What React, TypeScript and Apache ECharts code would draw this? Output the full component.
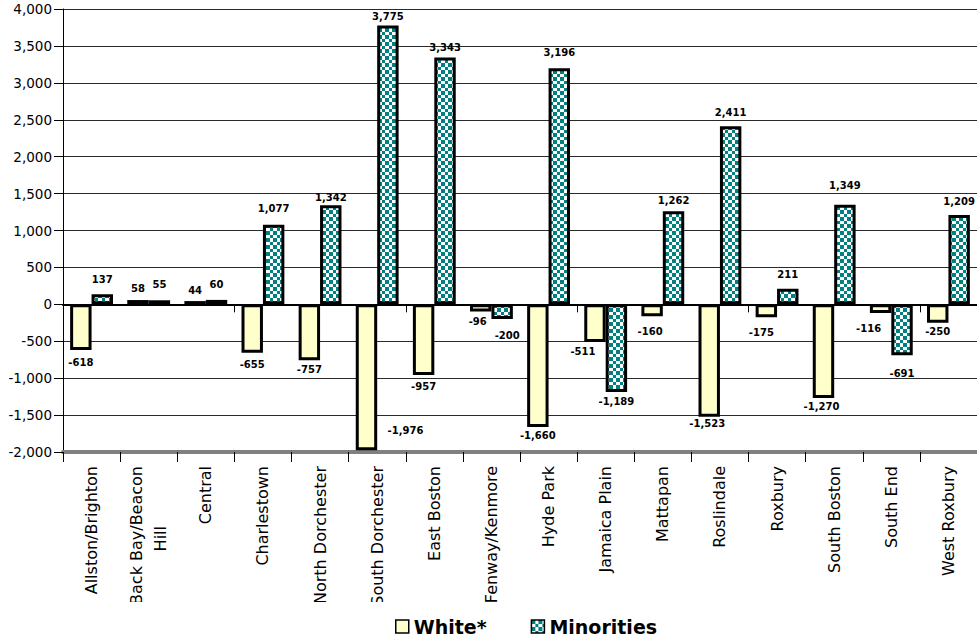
import React, { useEffect, useRef } from 'react';
import * as echarts from 'echarts';

// ---- data ----
const categories: string[] = [
  'Allston/Brighton',
  'Back Bay/Beacon\nHill',
  'Central',
  'Charlestown',
  'North Dorchester',
  'South Dorchester',
  'East Boston',
  'Fenway/Kenmore',
  'Hyde Park',
  'Jamaica Plain',
  'Mattapan',
  'Roslindale',
  'Roxbury',
  'South Boston',
  'South End',
  'West Roxbury',
];
const whiteValues: number[] = [-618, 58, 44, -655, -757, -1976, -957, -96, -1660, -511, -160, -1523, -175, -1270, -116, -250];
const minorityValues: number[] = [137, 55, 60, 1077, 1342, 3775, 3343, -200, 3196, -1189, 1262, 2411, 211, 1349, -691, 1209];
const seriesNames: string[] = ['White*', 'Minorities'];
const yMin = -2000;
const yMax = 4000;
const yStep = 500;

// ---- styling: small label nudges (px) to mimic the original placement ----
const whiteLabelNudge: number[][] = [
  [0, 4], [0, -3], [0, -2], [0, 3], [0, 0], [39, -29], [0, 3], [-3, 1],
  [0, 0], [-12, 0], [-2, 6], [-2, -2], [-5, 6], [-2, -1], [-12, 7], [0, 0],
];
const minorityLabelNudge: number[][] = [
  [0, -6], [0, -7], [0, -6], [0, -7], [0, 1], [0, 0], [0, -1], [5, 7],
  [0, -7], [0, 0], [0, -2], [0, -5], [0, -5], [0, -10], [0, 9], [0, -5],
];

const FONT = 'DejaVu Sans';
const CAT_FONT_SIZE = 16;
const CAT_MARGIN = 14;
const SECOND_LINE_MARGIN = 74; // centres the second line of a wrapped label

function makeChecker(): HTMLCanvasElement {
  const c = document.createElement('canvas');
  c.width = 7;
  c.height = 7;
  const ctx = c.getContext('2d')!;
  ctx.fillStyle = '#ffffff';
  ctx.fillRect(0, 0, 7, 7);
  ctx.fillStyle = '#008080';
  ctx.fillRect(0, 0, 4, 4);
  ctx.fillRect(4, 4, 3, 3);
  return c;
}

const fmt = (v: number) => Number(v).toLocaleString('en-US');

export default function App() {
  const ref = useRef<HTMLDivElement>(null);

  useEffect(() => {
    if (!ref.current) return;
    const chart = echarts.init(ref.current, null, { renderer: 'svg' });
    const checker = makeChecker();
    const minorityFill: any = { image: checker, repeat: 'repeat', imageWidth: 7, imageHeight: 7 };

    const catLines = categories.map((c) => c.split('\n'));

    const catLabelStyle = {
      interval: 0,
      rotate: 90,
      fontFamily: FONT,
      fontSize: CAT_FONT_SIZE,
      color: '#000',
      hideOverlap: false,
    };
    const labelOnlyAxis = (extra: any) => ({
      type: 'category',
      data: categories,
      position: 'bottom',
      axisLine: { show: false, onZero: false },
      axisTick: { show: false },
      splitLine: { show: false },
      ...extra,
    });

    const labelBase = {
      show: true,
      distance: 4,
      fontFamily: FONT,
      fontWeight: 'bold',
      fontSize: 10,
      color: '#000',
      formatter: (p: any) => fmt(p.value),
    };

    const option: any = {
      animation: false,
      backgroundColor: '#fff',
      grid: { left: 63, top: 9, width: 920, height: 443, containLabel: false },
      legend: {
        data: seriesNames,
        left: 390,
        top: 612,
        icon: 'rect',
        itemWidth: 13,
        itemHeight: 13,
        itemGap: 44,
        itemStyle: { borderColor: '#000', borderWidth: 1.5 },
        textStyle: { fontFamily: FONT, fontWeight: 'bold', fontSize: 19, color: '#000' },
        z: 200,
      },
      xAxis: [
        {
          type: 'category',
          data: categories,
          position: 'bottom',
          axisLine: { onZero: false, lineStyle: { color: '#808080', width: 4 } },
          axisTick: { show: true, length: 10, lineStyle: { color: '#000', width: 1 } },
          axisLabel: {
            ...catLabelStyle,
            margin: CAT_MARGIN,
            lineHeight: 18,
            formatter: (_v: string, i: number) => (catLines[i].length > 1 ? '' : catLines[i][0]),
          },
          splitLine: { show: false },
        },
        {
          type: 'category',
          data: categories,
          position: 'bottom',
          axisLine: { onZero: true, lineStyle: { color: '#000', width: 2 } },
          axisTick: { show: true, length: 8, lineStyle: { color: '#000', width: 1 } },
          axisLabel: { show: false },
          splitLine: { show: false },
        },
        labelOnlyAxis({
          axisLabel: {
            ...catLabelStyle,
            margin: CAT_MARGIN,
            lineHeight: 24,
            verticalAlign: 'bottom',
            formatter: (_v: string, i: number) => (catLines[i].length > 1 ? catLines[i][0] : ''),
          },
        }),
        labelOnlyAxis({
          offset: SECOND_LINE_MARGIN - CAT_MARGIN,
          axisLabel: {
            ...catLabelStyle,
            margin: CAT_MARGIN,
            lineHeight: 24,
            verticalAlign: 'top',
            formatter: (_v: string, i: number) => (catLines[i].length > 1 ? catLines[i][1] : ''),
          },
        }),
      ],
      yAxis: {
        type: 'value',
        min: yMin,
        max: yMax,
        interval: yStep,
        axisLine: { show: true, lineStyle: { color: '#000', width: 1 } },
        axisTick: { show: true, length: 9, lineStyle: { color: '#000', width: 1 } },
        axisLabel: {
          margin: 11,
          fontFamily: FONT,
          fontSize: 13.5,
          color: '#000',
          formatter: (v: number) => fmt(v),
        },
        splitLine: { show: true, lineStyle: { color: '#2a2a2a', width: 1 } },
      },
      series: [
        {
          name: seriesNames[0],
          type: 'bar',
          xAxisIndex: 0,
          barGap: '0%',
          barCategoryGap: '25%',
          itemStyle: { color: '#FFFFCC', borderColor: '#000', borderWidth: 3 },
          label: labelBase,
          data: whiteValues.map((v, i) => ({
            value: v,
            label: { position: v < 0 ? 'bottom' : 'top', offset: whiteLabelNudge[i] },
          })),
        },
        {
          name: seriesNames[1],
          type: 'bar',
          xAxisIndex: 0,
          barGap: '0%',
          barCategoryGap: '25%',
          itemStyle: { color: minorityFill, borderColor: '#000', borderWidth: 3 },
          label: labelBase,
          data: minorityValues.map((v, i) => ({
            value: v,
            label: { position: v < 0 ? 'bottom' : 'top', offset: minorityLabelNudge[i] },
          })),
        },
      ],
      graphic: [
        {
          type: 'rect',
          shape: { x: 0, y: 602, width: 977, height: 10 },
          style: { fill: '#fff' },
          z: 100,
        },
      ],
    };

    chart.setOption(option);
    return () => chart.dispose();
  }, []);

  return (
    <div
      ref={ref}
      style={{ position: 'absolute', left: 0, top: 0, width: 977, height: 640, background: '#fff' }}
    />
  );
}
